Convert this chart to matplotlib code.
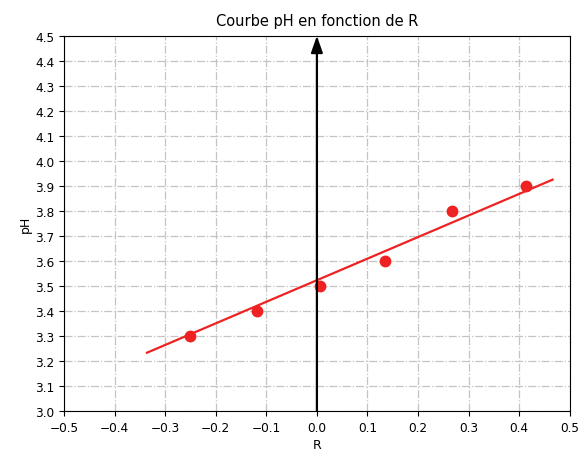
import numpy as np
import matplotlib
matplotlib.use("Agg")
import matplotlib.pyplot as plt

# measured points
R = [-0.251, -0.119, 0.006, 0.134, 0.267, 0.413]
pH = [3.3, 3.4, 3.5, 3.6, 3.8, 3.9]

# fitted line ends
fit_R = [-0.336, 0.466]
fit_pH = [3.233, 3.925]

xticks = np.round(np.arange(-0.5, 0.51, 0.1), 1)
yticks = np.round(np.arange(3.0, 4.51, 0.1), 1)

fig = plt.figure(figsize=(5.82, 4.52), dpi=100)
ax = fig.add_axes([0.110, 0.0885, 0.869, 0.830])

ax.plot(fit_R, fit_pH, color='#ee2222', lw=1.6, zorder=3)
ax.plot(R, pH, 'o', color='#ee2222', ms=7.5, zorder=4)

# vertical axis arrow at R = 0
ax.annotate('', xy=(0, 4.5), xytext=(0, 3.0),
            arrowprops=dict(arrowstyle='-|>,head_width=0.35,head_length=1.0',
                            color='black', lw=1.6, shrinkA=0, shrinkB=0),
            zorder=5, annotation_clip=False)

ax.set_xlim(-0.5, 0.5)
ax.set_ylim(3.0, 4.5)
ax.set_xticks(xticks)
ax.set_yticks(yticks)
ax.tick_params(labelsize=8.7)
ax.grid(True, linestyle='-.', color='#c4c4c4', lw=0.9)

ax.set_title('Courbe pH en fonction de R', fontsize=10.5, pad=8)
ax.set_xlabel('R', fontsize=9, labelpad=3)
ax.set_ylabel('pH', fontsize=9, labelpad=2)

fig.savefig('out.png', dpi=100)
